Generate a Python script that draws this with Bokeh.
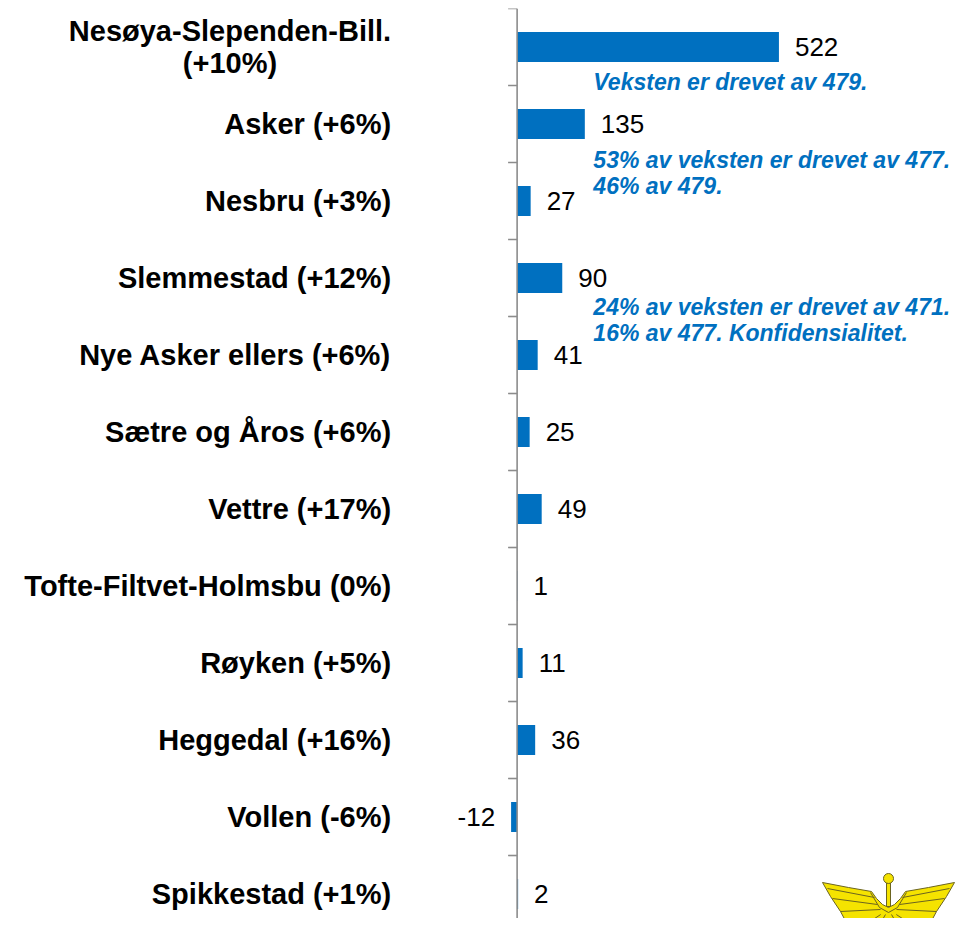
from bokeh.plotting import figure
from bokeh.models import Range1d, Span, ColumnDataSource
from bokeh.embed import file_html
from bokeh.resources import INLINE
from bokeh.core.properties import value

# ---- data ----
categories = [
    "Nesøya-Slependen-Bill.\n(+10%)",
    "Asker (+6%)",
    "Nesbru (+3%)",
    "Slemmestad (+12%)",
    "Nye Asker ellers (+6%)",
    "Sætre og Åros (+6%)",
    "Vettre (+17%)",
    "Tofte-Filtvet-Holmsbu (0%)",
    "Røyken (+5%)",
    "Heggedal (+16%)",
    "Vollen (-6%)",
    "Spikkestad (+1%)",
]
values = [522, 135, 27, 90, 41, 25, 49, 1, 11, 36, -12, 2]

notes = [
    "Veksten er drevet av 479.",
    "53% av veksten er drevet av 477.\n46% av 479.",
    "24% av veksten er drevet  av 471.\n16% av 477. Konfidensialitet.",
]
note_category = [0, 1, 3]

# ---- styling / layout constants ----
BLUE = "#0070C0"
AXIS_GREY = "#8c8c8c"
FONT = "Liberation Sans"
W, H = 959, 918
TOP = 8

idx = list(range(len(categories)))

p = figure(
    width=W, height=H,
    x_range=Range1d(-1030, 882),
    y_range=Range1d(11.318, -0.5),
    output_backend="svg", toolbar_location=None,
    min_border_left=0, min_border_right=0, min_border_top=TOP, min_border_bottom=0,
    x_axis_location=None, y_axis_location=None,
)
p.outline_line_color = None
p.xgrid.visible = False
p.ygrid.visible = False
p.background_fill_color = "white"
p.border_fill_color = "white"

# bars
p.hbar(y=idx, left=0, right=values, height=0.39, fill_color=BLUE, line_color=None)

# axis line at zero and category boundary ticks
p.add_layout(Span(location=0, dimension="height", line_color=AXIS_GREY, line_width=1.6))
bounds = [i - 0.5 for i in idx]
p.segment(x0=[-18] * len(bounds), x1=[0] * len(bounds), y0=bounds, y1=bounds,
          line_color=AXIS_GREY, line_width=1.6)

# value labels
vsrc = ColumnDataSource(dict(
    x=values, y=idx, t=[str(v) for v in values],
    align=["left" if v >= 0 else "right" for v in values],
    off=[16 if v >= 0 else -16 for v in values],
))
p.text(x="x", y="y", text="t", source=vsrc, text_align="align", x_offset="off",
       text_baseline="middle", text_font=value(FONT), text_font_size="26px",
       text_color="black")

# category labels (right-aligned block, lines centred)
p.text(x=[0] * len(categories), y=idx, text=categories, x_offset=-126,
       anchor="center_right", text_align="center", text_baseline="middle",
       text_line_height=0.98,
       text_font=value(FONT), text_font_size="29px", text_font_style="bold",
       text_color="black")

# annotations
note_shift = [0.46, 0.64, 0.54]
p.text(x=[152] * len(notes), y=[c + s for c, s in zip(note_category, note_shift)],
       text=notes, anchor="center_left", text_align="left", text_baseline="middle",
       text_line_height=1.0,
       text_font=value(FONT), text_font_size="23px", text_font_style="bold italic",
       text_color=BLUE)

# ---- decorative emblem (bottom right), drawn in canvas-pixel coordinates ----
p.extra_x_ranges = {"px": Range1d(0, W)}
p.extra_y_ranges = {"py": Range1d(H, TOP)}
cx = 888
left_top = [(-66, 882), (-40, 887), (-17, 891), (-12, 898), (-6, 904)]
right_top = [(-dx, y) for dx, y in reversed(left_top)]
outline = left_top + [(0, 907)] + right_top + [(58, 896), (48, 911), (40, 926),
                                                 (-40, 926), (-48, 911), (-58, 896)]
p.patch(x=[cx + dx for dx, _ in outline], y=[y for _, y in outline],
        fill_color="#F5E300", line_color="#6b6420", line_width=1,
        x_range_name="px", y_range_name="py")
feather_l = [((-61, 888), (-14, 897)), ((-56, 898), (-11, 904)), ((-48, 911), (-8, 909))]
xs, ys = [], []
for (a, b) in feather_l:
    xs.append([cx + a[0], cx + b[0]]); ys.append([a[1], b[1]])
    xs.append([cx - a[0], cx - b[0]]); ys.append([a[1], b[1]])
for dx in (-26, -10, 10, 26):
    xs.append([cx + dx * 0.3, cx + dx]); ys.append([914, 926])
xs.append([cx - 18, cx - 9, cx, cx + 9, cx + 18]); ys.append([892, 907, 912, 907, 892])
p.multi_line(xs=xs, ys=ys, line_color="#6b6420", line_width=1,
             x_range_name="px", y_range_name="py")
p.rect(x=[cx], y=[893], width=4, height=26, fill_color="#F5E300", line_color="#6b6420",
       line_width=1, x_range_name="px", y_range_name="py")
p.scatter(x=[cx], y=[878], size=10, fill_color="#F5E300", line_color="#6b6420",
          line_width=1, x_range_name="px", y_range_name="py")

open("out.html", "w").write(file_html(p, INLINE))
